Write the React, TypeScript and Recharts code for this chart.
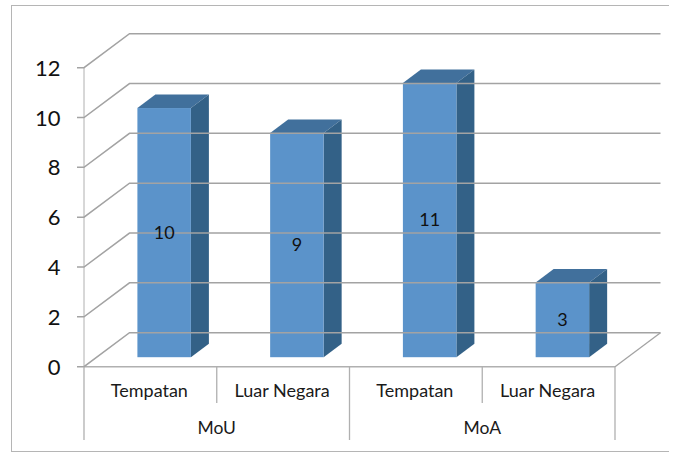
import { BarChart, Bar, XAxis, YAxis, LabelList } from "recharts";

const categories = ["Tempatan", "Luar Negara", "Tempatan", "Luar Negara"];
const groups = ["MoU", "MoU", "MoA", "MoA"];
const values = [10, 9, 11, 3];
const yTicks = [0, 2, 4, 6, 8, 10, 12];

const chartData = categories.map((name, i) => ({ key: i, name, group: groups[i], value: values[i] }));

const W = 678;
const H = 452;
const LEFT = 84;
const RIGHT = 615;
const TOP = 67.7;
const BOTTOM = 366.7;
const BAND = (RIGHT - LEFT) / categories.length;
// perspective offsets of the fake 3d
const WALL_X = 45.5;
const WALL_Y = 34;
const BAR_X = 13.4;
const BAR_Y = 9.5;
const DEPTH_X = 18;
const DEPTH_Y = 13.5;

const GRID = "#a3a3a3";
const AXIS = "#b0b0b0";
const FONT = "Lato, sans-serif";

const YTick = ({ y, payload }: any) => (
  <g>
    <path
      d={`M${LEFT - 7} ${y}H${LEFT}L${LEFT + WALL_X} ${y - WALL_Y}H${RIGHT + WALL_X}`}
      fill="none"
      stroke={GRID}
      strokeWidth={1.5}
    />
    <text x={60.5} y={y + 8} textAnchor="end" fontSize={22} fontFamily={FONT} fill="#111">
      {payload.value}
    </text>
  </g>
);

const SubTick = ({ x, payload, index }: any) => (
  <g>
    <line x1={x - BAND / 2} x2={x - BAND / 2} y1={BOTTOM} y2={index % 2 === 0 ? 440 : 403} stroke={AXIS} strokeWidth={1.3} />
    {index === categories.length - 1 && (
      <>
        <line x1={x + BAND / 2} x2={x + BAND / 2} y1={BOTTOM} y2={440} stroke={AXIS} strokeWidth={1.3} />
        <line x1={x + BAND / 2} x2={x + BAND / 2 + WALL_X} y1={BOTTOM} y2={BOTTOM - WALL_Y} stroke={GRID} strokeWidth={1.3} />
      </>
    )}
    <text x={x - 1} y={397} textAnchor="middle" fontSize={18} fontFamily={FONT} fill="#1a1a1a">
      {payload.value}
    </text>
  </g>
);

const GroupTick = ({ x, index }: any) =>
  index % 2 === 0 ? (
    <text x={x + BAND / 2} y={434} textAnchor="middle" fontSize={17.5} fontFamily={FONT} fill="#1a1a1a">
      {groups[index]}
    </text>
  ) : (
    <g />
  );

const Bar3d = ({ x, y, width, height }: any) => {
  const l = x + BAR_X;
  const r = l + width;
  const t = y - BAR_Y;
  const b = t + height;
  return (
    <g>
      <path d={`M${l} ${t}L${l + DEPTH_X} ${t - DEPTH_Y}H${r + DEPTH_X}L${r} ${t}Z`} fill="#41709c" />
      <path d={`M${r} ${t}L${r + DEPTH_X} ${t - DEPTH_Y}V${b - DEPTH_Y}L${r} ${b}Z`} fill="#336187" />
      <rect x={l} y={t} width={width} height={height} fill="#5b93ca" />
    </g>
  );
};

const BarValue = ({ x, y, width, height, value }: any) => (
  <text
    x={x + BAR_X + width / 2}
    y={y - BAR_Y + height / 2 + 6}
    textAnchor="middle"
    fontSize={18}
    fontFamily={FONT}
    fill="#111"
  >
    {value}
  </text>
);

export default function App() {
  return (
    <div style={{ position: "absolute", left: 0, top: 0, width: W, height: H }}>
      <div
        style={{
          position: "absolute",
          left: 11,
          top: 5,
          width: 658,
          height: 447,
          borderLeft: "1.5px solid #b5b5b5",
          borderTop: "1.5px solid #b5b5b5",
          borderBottom: "1.5px solid #b5b5b5",
          boxSizing: "border-box",
        }}
      />
      <div style={{ position: "absolute", left: 0, top: 0 }}>
        <BarChart
          width={W}
          height={H}
          data={chartData}
          margin={{ top: TOP, right: W - RIGHT, bottom: 0, left: 0 }}
        >
          <YAxis
            domain={[0, 12]}
            ticks={yTicks}
            width={LEFT}
            axisLine={{ stroke: AXIS }}
            tickLine={false}
            tick={YTick}
            interval={0}
          />
          <XAxis
            dataKey="name"
            height={40}
            interval={0}
            tickLine={false}
            axisLine={{ stroke: AXIS, strokeWidth: 1.5 }}
            tick={SubTick}
          />
          <XAxis
            xAxisId="group"
            dataKey="key"
            height={H - BOTTOM - 40}
            interval={0}
            tickLine={false}
            axisLine={false}
            tick={GroupTick}
          />
          <Bar dataKey="value" barSize={53.5} shape={Bar3d} isAnimationActive={false}>
            <LabelList dataKey="value" content={BarValue} />
          </Bar>
        </BarChart>
      </div>
    </div>
  );
}
